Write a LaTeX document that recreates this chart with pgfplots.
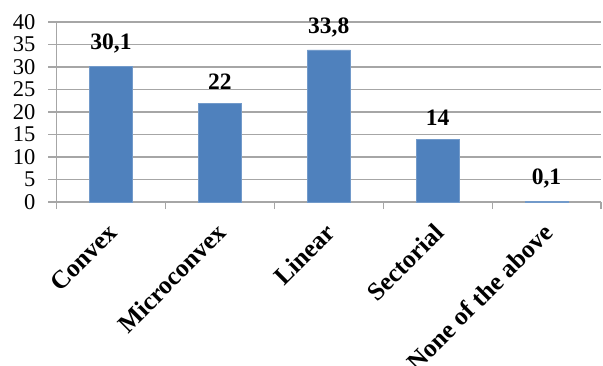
\documentclass[border=0pt]{standalone}
\usepackage{pgfplots}
\pgfplotsset{compat=1.18}
\usepackage{fontspec}
\setmainfont{Liberation Serif}
\definecolor{barblue}{HTML}{4F81BD}
\definecolor{gridgray}{HTML}{A6A6A6}
\begin{document}
\begin{tikzpicture}
\begin{axis}[
  scale only axis,
  width=544.5pt, height=180pt,
  xmin=-0.5, xmax=4.5, ymin=0, ymax=40,
  axis lines*=left,
  axis line style={gridgray, line width=1.2pt},
  ytick={0,5,...,40},
  ymajorgrids,
  grid style={gridgray, line width=1.2pt},
  major y tick style={gridgray, line width=1.2pt},
  tick align=outside,
  major tick length=8pt,
  yticklabel style={font=\fontsize{22.5}{22.5}\selectfont, inner sep=0pt, xshift=-13pt},
  xtick={0,1,2,3,4},
  xticklabels={Convex,Microconvex,Linear,Sectorial,None of the above},
  major x tick style={draw=none},
  minor xtick={-0.5,0.5,1.5,2.5,3.5,4.5},
  minor x tick style={gridgray, line width=1.2pt},
  minor tick length=7pt,
  xticklabel style={font=\fontsize{25.5}{25.5}\selectfont\bfseries, rotate=45, anchor=east, inner sep=0pt, xshift=-11.5pt, yshift=-14.5pt},
  /pgf/number format/assume math mode=true,
  /pgf/number format/use comma,
  nodes near coords,
  nodes near coords style={font=\fontsize{23.5}{23.5}\selectfont\bfseries, yshift=9.5pt},
  clip=false,
]
\addplot[ybar, bar width=43pt, fill=barblue, draw=barblue!80!white] coordinates {(0,30.1) (1,22) (2,33.8) (3,14) (4,0.1)};
\end{axis}
\pgfresetboundingbox
\path (current axis.south west) ++(-56.5pt,-163pt) coordinate (bbsw);
\path (current axis.north east) ++(2pt,22pt) coordinate (bbne);
\useasboundingbox (bbsw) rectangle (bbne);
\end{tikzpicture}
\end{document}
